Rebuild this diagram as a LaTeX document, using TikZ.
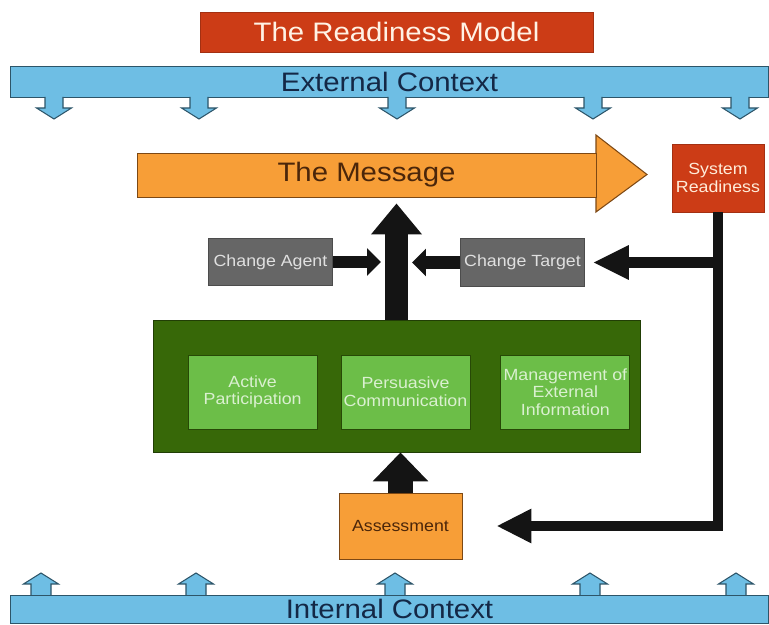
\documentclass[tikz,border=0pt]{standalone}
\usepackage{fontspec}
\setmainfont{Liberation Sans}[FakeStretch=1.1]
\usetikzlibrary{arrows.meta, positioning}
\definecolor{titlered}{RGB}{204,60,22}
\definecolor{ctxblue}{RGB}{110,190,228}
\definecolor{ctxline}{RGB}{45,85,105}
\definecolor{ctxtext}{RGB}{20,40,70}
\definecolor{msgorange}{RGB}{247,158,55}
\definecolor{msgline}{RGB}{125,72,20}
\definecolor{msgtext}{RGB}{75,38,10}
\definecolor{agentgray}{RGB}{102,102,102}
\definecolor{darkgreen}{RGB}{55,104,8}
\definecolor{lightgreen}{RGB}{108,190,72}
\definecolor{greentext}{RGB}{218,240,208}
\definecolor{arrowblack}{RGB}{20,20,20}
\tikzstyle{bigfont}=[font=\fontsize{15.2}{17}\selectfont]
\tikzstyle{smallfont}=[font=\fontsize{9.2}{10}\selectfont]
\tikzstyle{box}=[draw, line width=0.5pt, inner sep=1pt, align=center, smallfont]
\tikzstyle{ctxbar}=[box, bigfont, draw=ctxline, fill=ctxblue, text=ctxtext, minimum width=15.18cm]
\tikzstyle{agentbox}=[box, draw=black!70, fill=agentgray, text=black!12, minimum width=2.48cm, minimum height=0.95cm]
\tikzstyle{innerbox}=[box, draw=darkgreen!70!black, fill=lightgreen, text=greentext, minimum width=2.58cm, minimum height=1.48cm]
\tikzstyle{smallarrow}=[draw=ctxline, fill=ctxblue, line width=0.6pt, line join=miter]
\tikzstyle{thickarrow}=[draw=arrowblack, line width=0.48cm, -{Triangle[length=0.62cm, width=0.98cm]}]
\tikzstyle{midarrow}=[draw=arrowblack, line width=0.26cm, -{Triangle[length=0.28cm, width=0.54cm]}]
\tikzstyle{backarrow}=[draw=arrowblack, line width=0.21cm, -{Triangle[length=0.7cm, width=0.64cm]}]

\begin{document}
\begin{tikzpicture}[x=0.02cm, y=-0.02cm]
  \useasboundingbox (0,0) rectangle (769,625);
  \node[box, bigfont, draw=titlered!80!black, fill=titlered, text=white!90!orange, minimum width=7.86cm, minimum height=0.8cm] (title) at (396.5,32) {The Readiness Model};
  \node[ctxbar, minimum height=0.62cm] (ext) at (389.5,81.5) {External Context};
  \node[ctxbar, minimum height=0.56cm] (int) at (389.5,609) {Internal Context};
  \foreach \x in {54,199,397,593,740}
    \draw[smallarrow] (\x-9,97) -- (\x-9,108) -- (\x-17.5,108) -- (\x,119) -- (\x+17.5,108) -- (\x+9,108) -- (\x+9,97);
  \foreach \x in {41,196,395,590,736}
    \draw[smallarrow] (\x-10,595) -- (\x-10,584) -- (\x-17.5,584) -- (\x,573) -- (\x+17.5,584) -- (\x+10,584) -- (\x+10,595);

  % the message
  \draw[draw=msgline, fill=msgorange, line width=0.6pt] (596,135) -- (647,174.5) -- (596,212) -- cycle;
  \node[box, bigfont, draw=msgline, fill=msgorange, text=msgtext, minimum width=9.18cm, minimum height=0.88cm] (msg) at (366.5,175) {The Message};
  \node[box, draw=titlered!80!black, fill=titlered, text=white!85!orange, minimum width=1.84cm, minimum height=1.36cm] (sysready) at (718,178) {System\\Readiness};

  \node[agentbox] (agent) at (270.5,262) {Change Agent};
  \node[agentbox] (target) at (522.5,262.5) {Change Target};

  \node[box, draw=darkgreen!60!black, fill=darkgreen, minimum width=9.74cm, minimum height=2.64cm] (green) at (396.5,386) {};
  \node[innerbox] (pc) at (405.5,392) {Persuasive\\Communication};
  \node[innerbox] (ap) [left=0.46cm of pc] {Active\\Participation};
  \node[innerbox] (mei) [right=0.6cm of pc] {Management of\\External\\Information};

  \node[box, draw=msgline, fill=msgorange, text=msgtext, minimum width=2.46cm, minimum height=1.32cm] (assess) at (400.5,526) {Assessment};

  \draw[thickarrow, shorten >=0.12cm] (green.north) -- (green.north |- msg.south);
  \draw[midarrow, shorten >=0.31cm] (agent.east) -- (agent.east -| green.north);
  \draw[midarrow, shorten >=0.31cm] (target.west) -- (target.west -| green.north);
  \draw[thickarrow, line width=0.52cm, -{Triangle[length=0.58cm, width=1.08cm]}] (assess.north) -- (assess.north |- green.south);
  \draw[backarrow, line join=miter, shorten >=0.68cm] (sysready.south) |- (assess.east);
  \draw[backarrow, -{Triangle[length=0.72cm, width=0.64cm]}, shorten >=0.16cm] (sysready.south |- target.east) -- (target.east);
\end{tikzpicture}
\end{document}
